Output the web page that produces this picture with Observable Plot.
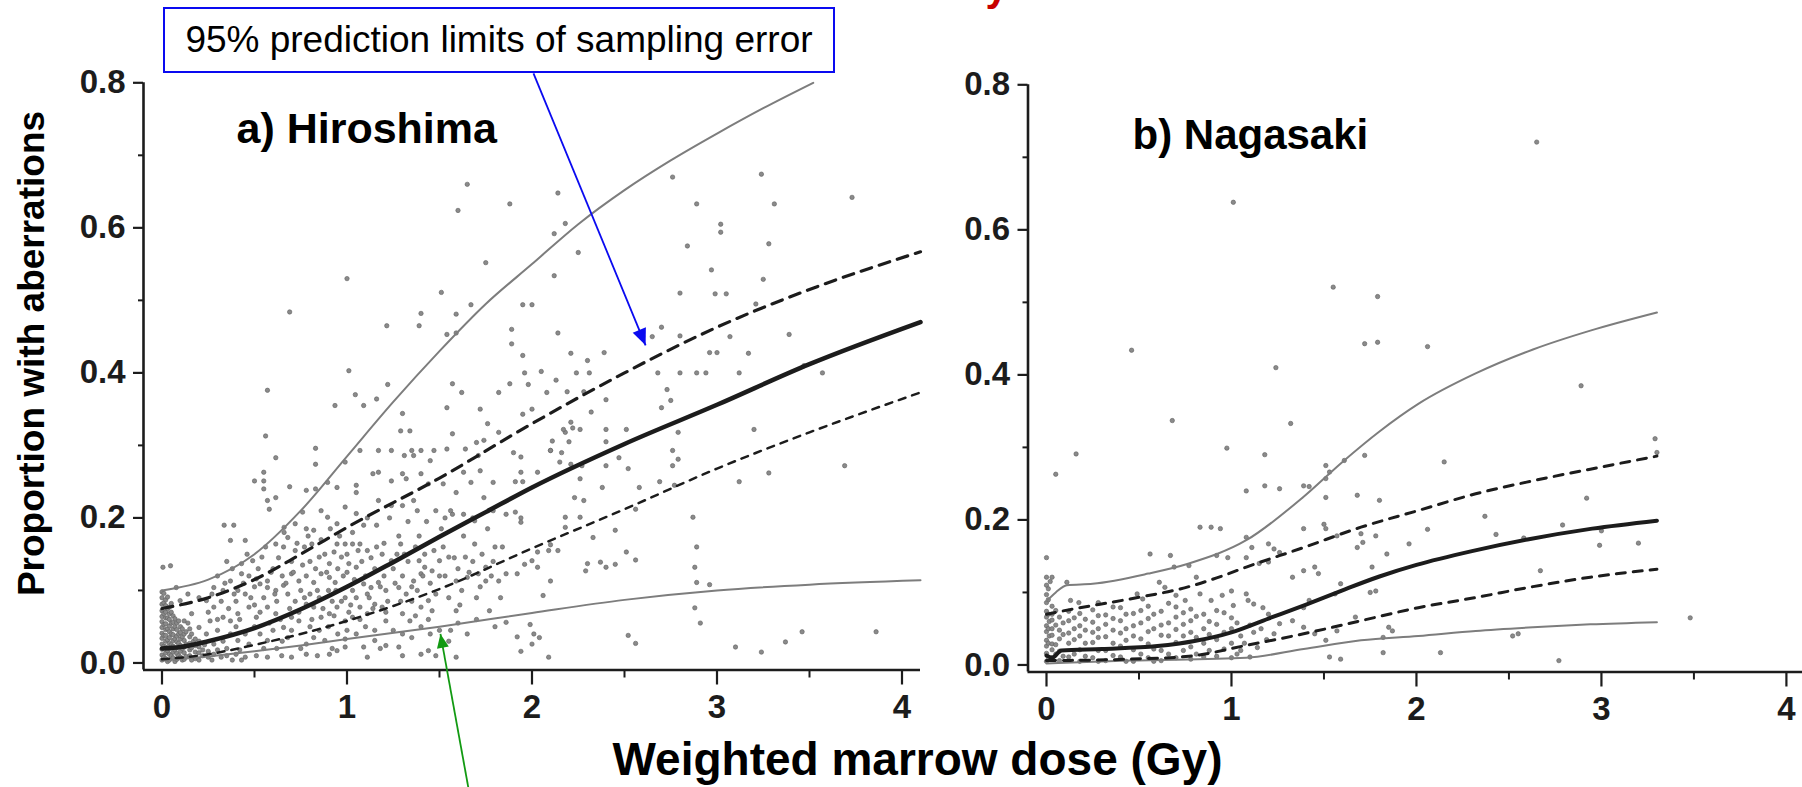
<!DOCTYPE html>
<html>
<head>
<meta charset="utf-8">
<script src="https://cdn.jsdelivr.net/npm/d3@7"></script>
<script src="https://cdn.jsdelivr.net/npm/@observablehq/plot@0.6"></script>
<style>
  html, body { margin: 0; padding: 0; background: #fff; }
  #wrap { position: relative; width: 1802px; height: 787px; overflow: hidden; background: #fff;
          font-family: "Liberation Sans", Arial, Helvetica, sans-serif; }
  #wrap svg { position: absolute; left: 0; top: 0; }
  #callout { position: absolute; left: 163px; top: 7px; width: 672px; height: 66px; box-sizing: border-box;
             border: 2.5px solid #0a0af0; background: #fff; display: flex; align-items: center; justify-content: center;
             font-size: 37px; color: #000; white-space: nowrap; z-index: 3; }
</style>
</head>
<body>
<div id="wrap"><div id="callout"></div></div>
<script>
// ---------------- texts ----------------
const calloutText = "95% prediction limits of sampling error";
const panelA = "a) Hiroshima";
const panelB = "b) Nagasaki";
const xTitle = "Weighted marrow dose (Gy)";
const yTitle = "Proportion with aberrations";
const titleTail = "y"; // only the descender of the (cropped) red title is visible

// ---------------- ticks ----------------
const yMajor = [0, 0.2, 0.4, 0.6, 0.8];
const yMinor = [0.1, 0.3, 0.5, 0.7];
const xMajor = [0, 1, 2, 3, 4];
const xMinor = [0.5, 1.5, 2.5, 3.5];

// ---------------- Hiroshima curves [dose, proportion] ----------------
const hFit = [[0,0.020],[0.1,0.022],[0.25,0.030],[0.5,0.048],[0.75,0.074],[1,0.105],[1.25,0.139],[1.5,0.174],[1.75,0.208],[2,0.242],[2.5,0.302],[3,0.356],[3.5,0.412],[4.1,0.470]];
const hUpperCI = [[0,0.075],[0.25,0.09],[0.5,0.115],[0.75,0.15],[1,0.187],[1.5,0.255],[2,0.33],[2.5,0.40],[3,0.463],[3.5,0.515],[4.1,0.567]];
const hLowerCI = [[0,0.005],[0.25,0.012],[0.5,0.025],[0.75,0.04],[1,0.058],[1.5,0.102],[2,0.158],[2.5,0.212],[3,0.268],[3.5,0.318],[4.1,0.373]];
const hUpperPL = [[0,0.10],[0.25,0.115],[0.5,0.15],[0.75,0.21],[1,0.285],[1.25,0.36],[1.5,0.43],[1.75,0.495],[2,0.55],[2.25,0.605],[2.5,0.652],[2.75,0.693],[3,0.73],[3.25,0.765],[3.52,0.80]];
const hLowerPL = [[0,0.003],[0.25,0.009],[0.5,0.016],[0.75,0.024],[1,0.033],[1.5,0.05],[2,0.069],[2.5,0.087],[3,0.1],[3.5,0.108],[4.1,0.114]];

// ---------------- Nagasaki curves ----------------
const nFit = [[0,0.013],[0.03,0.010],[0.08,0.020],[0.3,0.022],[0.6,0.026],[0.8,0.033],[1.0,0.045],[1.2,0.064],[1.4,0.083],[1.6,0.103],[1.8,0.122],[2.0,0.138],[2.3,0.157],[2.6,0.173],[2.95,0.188],[3.3,0.199]];
const nUpperCI = [[0,0.07],[0.14,0.077],[0.45,0.091],[0.77,0.108],[0.92,0.12],[1.08,0.135],[1.39,0.162],[1.70,0.19],[2.01,0.213],[2.32,0.236],[2.63,0.254],[2.94,0.27],[3.30,0.288]];
const nLowerCI = [[0,0.006],[0.45,0.008],[0.77,0.012],[1.08,0.027],[1.39,0.043],[1.7,0.061],[2.01,0.079],[2.32,0.093],[2.63,0.108],[2.94,0.121],[3.3,0.132]];
const nUpperPL = [[0,0.088],[0.05,0.1],[0.11,0.11],[0.25,0.112],[0.55,0.126],[0.77,0.14],[1.08,0.172],[1.39,0.232],[1.6,0.28],[1.8,0.322],[2.01,0.36],[2.32,0.402],[2.63,0.435],[2.94,0.461],[3.3,0.486]];
const nLowerPL = [[0,0.002],[0.45,0.006],[1.08,0.01],[1.39,0.022],[1.7,0.034],[2.01,0.04],[2.32,0.047],[2.63,0.052],[2.94,0.056],[3.3,0.059]];

// ---------------- Hiroshima observations [dose, proportion] ----------------
const hObs = [
[1.65,0.66],[1.60,0.624],[1.88,0.633],[2.14,0.648],[2.18,0.606],[2.12,0.592],[2.25,0.566],[1.75,0.552],[2.12,0.534],[1.0,0.53],[1.51,0.511],[0.69,0.484],[1.67,0.494],[1.95,0.494],[2.0,0.494],[1.40,0.482],[1.59,0.481],[1.215,0.465],[1.39,0.465],[1.54,0.453],[1.59,0.455],[1.89,0.46],[1.89,0.44],[2.14,0.455],[1.01,0.403],[1.57,0.385],[1.95,0.424],[2.05,0.402],[1.96,0.40],[2.21,0.427],[2.30,0.417],[0.57,0.376],[1.045,0.37],[1.22,0.384],[1.62,0.373],[1.82,0.373],[1.88,0.385],[1.98,0.384],[2.08,0.373],[0.935,0.355],[1.09,0.355],[1.16,0.364],[1.30,0.344],[1.54,0.352],[1.72,0.35],[1.95,0.343],[2.0,0.35],[2.32,0.346],[0.56,0.313],[0.83,0.296],[0.615,0.283],[1.29,0.32],[1.34,0.32],[1.57,0.316],[1.76,0.33],[2.11,0.306],[2.22,0.324],[1.9,0.29],
[1.70,0.304],[1.74,0.307],[1.82,0.318],[2.18,0.318],[0.99,0.277],[1.07,0.293],[1.17,0.293],[1.24,0.293],[1.35,0.293],[1.40,0.293],[1.47,0.293],[1.54,0.295],[1.31,0.286],[1.36,0.286],[1.45,0.279],[1.71,0.286],[1.64,0.295],[2.10,0.293],[2.16,0.29],
[2.76,0.67],[3.24,0.674],[3.73,0.642],[2.89,0.633],[3.31,0.633],[3.02,0.605],[3.02,0.594],[2.84,0.575],[3.28,0.578],[2.97,0.542],[3.25,0.529],[2.80,0.51],[2.99,0.509],[3.05,0.509],[3.21,0.495],[2.70,0.463],[2.65,0.45],[2.80,0.451],[3.07,0.45],[3.39,0.453],[2.39,0.428],[2.96,0.428],[3.0,0.428],[3.17,0.427],[2.68,0.40],[2.80,0.40],[2.89,0.40],[2.94,0.40],[3.12,0.40],[3.57,0.40],[2.13,0.39],[2.24,0.40],[2.31,0.40],[3.47,0.41],[2.73,0.377],[2.75,0.362],[2.70,0.352],[2.19,0.374],[2.40,0.363],[2.28,0.374],[2.21,0.332],[2.26,0.322],[2.17,0.322],[2.40,0.322],[2.51,0.322],[2.79,0.318],[3.20,0.322],[2.10,0.293],[2.20,0.305],[2.40,0.305],[2.76,0.293],
[2.15,0.277],[2.21,0.274],[1.94,0.284],[2.47,0.283],[2.52,0.268],[2.40,0.272],[2.27,0.272],[2.79,0.281],[2.76,0.272],[1.94,0.263],[2.03,0.263],[1.91,0.25],[1.95,0.25],[2.26,0.254],[2.38,0.242],[2.58,0.242],[2.69,0.25],[2.77,0.245],[3.12,0.25],[3.28,0.262],[3.69,0.272],[2.23,0.228],[2.28,0.224],[1.86,0.205],[1.91,0.208],[1.94,0.2],[1.94,0.194],[2.18,0.201],[2.26,0.201],[2.18,0.187],[2.33,0.173],[2.45,0.183],[2.56,0.212],[2.87,0.201],[2.89,0.16],[2.03,0.153],[2.10,0.163],[2.09,0.155],[2.14,0.155],[2.51,0.153],[2.56,0.142],[1.92,0.123],[1.86,0.123],[1.96,0.136],[2.0,0.141],[2.03,0.132],[2.10,0.113],[2.29,0.127],[2.30,0.137],[2.37,0.139],[2.40,0.132],[2.45,0.136],[2.88,0.132],[2.89,0.111],[2.96,0.108],[2.06,0.093],[2.88,0.076],[2.91,0.055],[1.86,0.056],[1.99,0.053],[1.92,0.036],[2.01,0.04],[2.04,0.035],[2.0,0.026],[1.94,0.016],[2.09,0.008],[2.52,0.038],[2.56,0.027],[3.10,0.022],[3.24,0.015],[3.37,0.029],[3.46,0.043],[3.86,0.043],
[0.50,0.251],[0.55,0.251],[0.55,0.263],[0.83,0.274],[0.55,0.24],[0.57,0.224],[0.615,0.228],[0.69,0.243],[0.78,0.238],[0.83,0.24],[0.895,0.249],[0.946,0.242],[1.05,0.245],[1.05,0.235],[1.14,0.261],[1.17,0.263],[1.24,0.251],[1.30,0.261],[1.32,0.254],[1.40,0.261],[1.44,0.247],[1.52,0.247],[1.59,0.235],[1.63,0.263],[1.67,0.249],[1.72,0.265],[1.74,0.228],[1.79,0.249],
[0.336,0.19],[0.388,0.19],[0.58,0.212],[0.66,0.187],[0.68,0.173],[0.72,0.192],[0.76,0.208],[0.78,0.185],[0.82,0.183],[0.86,0.21],[0.895,0.201],[0.946,0.192],[0.99,0.215],[1.05,0.206],[1.11,0.2],[1.17,0.224],[1.24,0.217],[1.30,0.217],[1.36,0.224],[1.38,0.21],[1.48,0.21],[1.53,0.2],[1.57,0.205],[1.63,0.205],[1.69,0.196],[1.79,0.21],
[0.005,0.132],[0.046,0.134],[0.37,0.169],[0.45,0.169],[0.43,0.137],[0.49,0.141],[0.54,0.146],[0.37,0.113],[0.28,0.104],[0.33,0.1],[0.41,0.1],[0.53,0.109],[0.57,0.113],[0.615,0.164],[0.657,0.16],[0.72,0.155],[0.77,0.16],[0.81,0.164],[0.85,0.146],[0.905,0.137],[0.946,0.164],[0.99,0.164],[1.03,0.164],[1.07,0.164],[1.11,0.155],[1.16,0.16],[0.93,0.153],[0.97,0.146],[1.01,0.137],[1.05,0.132],[1.19,0.15],[1.24,0.141],[1.29,0.164],[1.37,0.16],[1.39,0.141],[1.42,0.132],[1.50,0.141],[1.55,0.146],[1.64,0.146],[1.69,0.164],[1.75,0.132],[1.82,0.113],
[0.43,0.123],[0.47,0.12],[0.51,0.116],[0.57,0.104],[0.615,0.1],[0.657,0.107],[0.70,0.123],[0.74,0.113],[0.78,0.12],[0.82,0.111],[0.86,0.123],[0.905,0.118],[0.936,0.111],[0.99,0.09],[1.03,0.1],[1.09,0.109],[1.13,0.104],[1.17,0.111],[1.21,0.1],[1.28,0.104],[1.32,0.095],[1.36,0.113],[1.40,0.123],[1.46,0.127],[1.59,0.113],[1.65,0.118],[1.71,0.123],[1.75,0.113],
[0.2,0.09],[0.24,0.086],[0.28,0.077],[0.33,0.063],[0.37,0.058],[0.41,0.068],[0.47,0.077],[0.51,0.063],[0.57,0.077],[0.615,0.068],[0.657,0.049],[0.70,0.063],[0.74,0.058],[0.78,0.081],[0.82,0.077],[0.86,0.063],[0.905,0.068],[0.946,0.077],[0.99,0.058],[1.03,0.063],[1.07,0.077],[1.11,0.068],[1.15,0.081],[1.19,0.077],[1.21,0.058],[1.30,0.068],[1.34,0.058],[1.40,0.077],[1.44,0.086],[1.46,0.072],[1.50,0.045],[1.56,0.045],[1.59,0.072],[1.77,0.072],
[1.59,0.008],[1.48,0.01],[1.44,0.017],[1.40,0.012],[1.30,0.01],[1.11,0.008],[1.21,0.024],[1.28,0.022],[0.70,0.008],[0.647,0.01],[0.57,0.008],[0.51,0.01],[0.45,0.008],[0.78,0.012],[0.84,0.01],[0.905,0.012],[0.946,0.017],[0.99,0.022],[0.57,0.031],[0.68,0.035],[0.78,0.026],[0.88,0.031],[0.99,0.033],[1.09,0.022],[1.15,0.031],[0.37,0.04],[0.41,0.031],[0.47,0.026],[0.53,0.04],[0.24,0.04],[0.28,0.026],[0.2,0.022],[0.2,0.049],[0.26,0.058],[0.16,0.068],[0.12,0.058],[0.098,0.086],[0.14,0.095],[0.077,0.104],
[0.3,0.12],[0.35,0.14],[0.4,0.085],[0.45,0.095],[0.5,0.08],[0.55,0.09],[0.6,0.13],[0.62,0.085],[0.65,0.12],[0.68,0.095],[0.7,0.14],[0.72,0.085],[0.75,0.1],[0.8,0.14],[0.8,0.095],[0.85,0.09],[0.88,0.15],[0.9,0.1],[0.92,0.085],[0.95,0.13],[0.98,0.12],[1.0,0.15],[1.02,0.08],[1.05,0.09],[1.08,0.14],[1.1,0.12],[1.12,0.09],[1.15,0.13],[1.2,0.12],[1.22,0.085],[1.25,0.13],[1.27,0.15],[1.3,0.12],[1.33,0.14],[1.35,0.085],[1.38,0.1],[1.42,0.15],[1.45,0.11],[1.5,0.12],[1.52,0.16],[1.55,0.09],[1.6,0.13],[1.62,0.1],[1.68,0.14],[1.7,0.09],[1.73,0.15],[1.78,0.12],[1.8,0.16],
[0.3,0.045],[0.35,0.02],[0.4,0.05],[0.45,0.04],[0.5,0.05],[0.55,0.02],[0.6,0.045],[0.62,0.02],[0.65,0.03],[0.7,0.045],[0.75,0.02],[0.8,0.05],[0.82,0.035],[0.85,0.045],[0.9,0.05],[0.92,0.02],[0.95,0.04],[1.0,0.045],[1.05,0.04],[1.1,0.05],[1.15,0.045],[1.18,0.02],[1.25,0.045],[1.3,0.04],[1.35,0.035],[1.4,0.05],[1.45,0.04],[1.55,0.03],[1.6,0.055],[1.65,0.04],[1.7,0.06],[1.8,0.05],
[0.25,0.07],[0.27,0.095],[0.3,0.06],[0.32,0.085],[0.34,0.11],[0.36,0.075],[0.38,0.13],[0.39,0.095],[0.42,0.06],[0.44,0.11],[0.46,0.15],[0.48,0.09],[0.5,0.105],[0.52,0.13],[0.53,0.07],[0.56,0.16],[0.58,0.055],[0.59,0.125],[0.61,0.095],[0.63,0.145],[0.64,0.06],[0.66,0.18],[0.67,0.11],[0.69,0.075],[0.71,0.125],[0.73,0.165],[0.74,0.07],[0.76,0.135],[0.77,0.09],[0.79,0.175],[0.81,0.06],[0.83,0.13],[0.84,0.1],[0.86,0.17],[0.87,0.075],[0.89,0.125],[0.91,0.185],[0.93,0.065],[0.94,0.1],[0.96,0.175],[0.97,0.085],[1.0,0.125],[1.01,0.07],[1.03,0.18],[1.04,0.115],[1.06,0.155],[1.07,0.06],[1.09,0.19],[1.11,0.095],[1.13,0.145],[1.14,0.075],[1.16,0.19],[1.18,0.105],[1.2,0.165],[1.21,0.07],[1.23,0.2],[1.26,0.11],[1.28,0.175],[1.29,0.085],[1.31,0.15],[1.33,0.195],[1.35,0.105],[1.37,0.065],[1.39,0.175],[1.41,0.12],[1.43,0.195],[1.44,0.06],[1.47,0.155],[1.48,0.095],[1.51,0.185],[1.53,0.12],[1.56,0.21],[1.58,0.145],[1.61,0.08],[1.63,0.175],[1.66,0.125],[1.68,0.2],[1.72,0.105],[1.76,0.185],[1.79,0.14],[1.83,0.09],[1.84,0.16],
[0,0.004],[0,0.011],[0,0.019],[0,0.026],[0,0.034],[0,0.041],[0,0.049],[0,0.057],[0,0.064],[0,0.072],[0,0.081],[0,0.09],[0,0.098],
[0.01,0.008],[0.01,0.023],[0.01,0.038],[0.01,0.053],[0.01,0.068],[0.01,0.083],[0.01,0.096],
[0.02,0.006],[0.02,0.014],[0.02,0.022],[0.02,0.03],[0.02,0.038],[0.02,0.046],[0.02,0.054],[0.02,0.062],[0.02,0.07],[0.02,0.079],[0.02,0.087],
[0.03,0.002],[0.03,0.017],[0.03,0.032],[0.03,0.047],[0.03,0.062],[0.03,0.075],[0.03,0.091],
[0.04,0.004],[0.04,0.012],[0.04,0.02],[0.04,0.027],[0.04,0.035],[0.04,0.043],[0.04,0.051],[0.04,0.06],[0.04,0.068],[0.04,0.077],
[0.05,0.01],[0.05,0.025],[0.05,0.04],[0.05,0.055],[0.05,0.07],[0.05,0.082],
[0.06,0.007],[0.06,0.015],[0.06,0.023],[0.06,0.031],[0.06,0.039],[0.06,0.047],[0.06,0.056],[0.06,0.065],
[0.07,0.002],[0.07,0.018],[0.07,0.033],[0.07,0.05],[0.07,0.061],
[0.08,0.005],[0.08,0.013],[0.08,0.021],[0.08,0.029],[0.08,0.037],[0.08,0.046],[0.08,0.055],
[0.09,0.01],[0.09,0.027],[0.09,0.04],[0.09,0.058],
[0.1,0.008],[0.1,0.016],[0.1,0.024],[0.1,0.033],[0.1,0.042],[0.1,0.05],
[0.11,0.004],[0.11,0.02],[0.11,0.036],[0.11,0.047],
[0.12,0.005],[0.12,0.014],[0.12,0.022],[0.12,0.031],[0.12,0.04],
[0.13,0.009],[0.13,0.026],[0.13,0.043],[0.14,0.055],
[0.15,0.01],[0.15,0.018],[0.15,0.027],[0.15,0.036],[0.15,0.047],
[0.16,0.004],[0.16,0.021],[0.16,0.04],[0.17,0.03],
[0.18,0.006],[0.18,0.015],[0.18,0.024],[0.18,0.033],
[0.2,0.004],[0.2,0.014],[0.2,0.03],[0.22,0.01],[0.22,0.018],[0.23,0.025],[0.25,0.008],[0.25,0.016],[0.27,0.004],[0.28,0.012],[0.3,0.018],[0.32,0.008],[0.33,0.03],[0.35,0.01],[0.38,0.004],[0.4,0.012],[0.42,0.018],[0.43,0.004]
];

// ---------------- Nagasaki observations ----------------
const nObs = [
[2.65,0.721],[1.01,0.638],[1.55,0.521],[1.79,0.508],[1.72,0.443],[1.79,0.445],[2.06,0.439],[0.46,0.434],[1.24,0.41],[2.89,0.385],[0.68,0.337],[1.32,0.333],[0.16,0.291],[0.05,0.263],[0.975,0.299],[1.18,0.29],[2.15,0.28],[3.29,0.312],[3.30,0.293],
[1.08,0.24],[1.18,0.247],[1.26,0.243],[1.39,0.247],[1.42,0.246],[1.53,0.266],[1.51,0.257],[1.61,0.282],[1.72,0.289],[1.51,0.275],[1.68,0.234],[1.80,0.227],[1.51,0.231],[2.92,0.23],[2.37,0.205],[2.06,0.187],[1.96,0.167],[2.79,0.193],[3.0,0.185],[2.99,0.165],[3.2,0.168],[2.67,0.13],[2.43,0.18],[2.58,0.175],
[0.83,0.19],[0.89,0.19],[0.94,0.188],[1.08,0.176],[1.11,0.162],[1.2,0.167],[1.23,0.16],[1.39,0.188],[1.5,0.194],[1.51,0.188],[1.57,0.178],[1.7,0.181],[1.78,0.178],[1.84,0.153],[1.71,0.169],[1.68,0.162],
[0.56,0.153],[0.67,0.151],[0.69,0.135],[0.77,0.137],[0.81,0.121],[0.92,0.151],[0.98,0.148],[1.08,0.148],[1.15,0.14],[1.2,0.142],[1.26,0.155],[1.33,0.121],[1.39,0.13],[1.45,0.135],[1.47,0.126],[1.59,0.112],[1.56,0.098],[1.76,0.135],[1.75,0.1],[1.78,0.102],
[0.0,0.148],[0.0,0.121],[0.03,0.121],[0.0,0.11],[0.11,0.114],[0.13,0.089],[0.175,0.086],[0.28,0.086],[0.49,0.098],[0.52,0.091],[0.61,0.114],[0.64,0.107],[0.70,0.096],[0.75,0.089],[0.83,0.098],[0.89,0.089],[0.95,0.096],[1.0,0.102],[1.01,0.082],[1.08,0.098],[1.09,0.089],[1.12,0.084],[1.17,0.079],[1.2,0.07],[1.39,0.079],[1.42,0.089],[1.26,0.057],[1.33,0.061],[1.39,0.052],[1.45,0.043],[1.51,0.034],[1.53,0.011],[1.59,0.008],[1.82,0.017],[1.87,0.047],[1.85,0.052],[2.13,0.017],[2.52,0.04],[2.55,0.043],[2.77,0.006],[3.48,0.065],[1.57,0.047],[1.67,0.066],[1.82,0.038],[1.23,0.043],[1.14,0.024],
[0,0.005],[0,0.016],[0,0.026],[0,0.034],[0,0.046],[0,0.054],[0,0.066],[0,0.074],[0,0.086],[0,0.097],
[0.01,0.01],[0.01,0.03],[0.01,0.05],[0.01,0.07],[0.01,0.09],[0.01,0.105],[0.02,0.115],[0.015,0.04],[0.015,0.06],
[0.03,0.01],[0.03,0.021],[0.03,0.029],[0.03,0.041],[0.03,0.05],[0.03,0.062],[0.03,0.07],[0.03,0.081],
[0.05,0.015],[0.05,0.028],[0.05,0.055],[0.05,0.075],
[0.07,0.006],[0.07,0.019],[0.07,0.036],[0.07,0.048],[0.07,0.066],
[0.09,0.012],[0.09,0.042],[0.09,0.058],
[0.12,0.011],[0.12,0.03],[0.12,0.044],[0.12,0.061],[0.12,0.074],
[0.15,0.015],[0.15,0.035],[0.15,0.05],[0.15,0.065],
[0.18,0.005],[0.18,0.021],[0.18,0.04],[0.18,0.054],[0.18,0.071],
[0.21,0.012],[0.21,0.03],[0.21,0.048],[0.21,0.063],
[0.25,0.01],[0.25,0.031],[0.25,0.045],[0.25,0.059],[0.25,0.076],
[0.28,0.005],[0.28,0.02],[0.28,0.038],[0.28,0.05],[0.28,0.068],
[0.32,0.006],[0.32,0.02],[0.32,0.039],[0.32,0.056],[0.32,0.069],
[0.36,0.013],[0.36,0.03],[0.36,0.048],[0.36,0.064],[0.36,0.08],
[0.4,0.011],[0.4,0.026],[0.4,0.044],[0.4,0.061],[0.4,0.079],
[0.43,0.005],[0.43,0.034],[0.43,0.05],[0.43,0.07],
[0.47,0.005],[0.47,0.021],[0.47,0.04],[0.47,0.054],[0.47,0.071],
[0.51,0.015],[0.51,0.036],[0.51,0.058],[0.51,0.075],
[0.55,0.01],[0.55,0.029],[0.55,0.046],[0.55,0.064],[0.55,0.081],
[0.58,0.005],[0.58,0.022],[0.58,0.05],[0.58,0.07],
[0.62,0.006],[0.62,0.02],[0.62,0.041],[0.62,0.055],[0.62,0.074],
[0.66,0.015],[0.66,0.04],[0.66,0.058],[0.66,0.085],
[0.7,0.01],[0.7,0.031],[0.7,0.049],[0.7,0.066],[0.7,0.08],
[0.74,0.02],[0.74,0.04],[0.74,0.056],[0.74,0.072],
[0.78,0.008],[0.78,0.025],[0.78,0.045],[0.78,0.061],[0.78,0.077],
[0.81,0.015],[0.81,0.038],[0.81,0.067],
[0.85,0.011],[0.85,0.03],[0.85,0.05],[0.85,0.07],
[0.88,0.02],[0.88,0.042],[0.88,0.06],
[0.92,0.012],[0.92,0.035],[0.92,0.056],[0.92,0.075],
[0.96,0.022],[0.96,0.045],[0.96,0.072],
[1.0,0.01],[1.0,0.03],[1.0,0.05],[1.0,0.065],
[1.03,0.015],[1.03,0.058],[1.05,0.02],[1.05,0.04],[1.07,0.03],[1.1,0.011],[1.1,0.055],[1.12,0.045],[1.16,0.05],[1.19,0.035]
];

// ---------------- annotation anchors (data coordinates of panel a) ----------------
const blueArrow = [{x1: 2.008, y1: 0.813, x2: 2.614, y2: 0.438}];
const greenArrow = [{x1: 1.656, y1: -0.172, x2: 1.505, y2: 0.040}];

// ---------------- drawing ----------------
const W = 1802, H = 787;
const ink = "#1c1c1c";
const gray = "#7d7d7d";
const font = "'Liberation Sans', Arial, Helvetica, sans-serif";
const xy = {x: d => d[0], y: d => d[1]};

function headSymbol(angleDeg) {
  const a = angleDeg * Math.PI / 180, c = Math.cos(a), s = Math.sin(a);
  const rot = (x, y) => [x * c - y * s, x * s + y * c];
  return {
    draw(ctx, size) {
      const r = Math.sqrt(size / Math.PI), L = r * 2.2, w = r * 0.95;
      const p1 = rot(w, L), p2 = rot(-w, L);
      ctx.moveTo(0, 0); ctx.lineTo(p1[0], p1[1]); ctx.lineTo(p2[0], p2[1]); ctx.closePath();
    }
  };
}

function axes(xd, yd) {
  return [
    Plot.ruleX([xd[0]], {stroke: ink, strokeWidth: 2.6}),
    Plot.ruleY([yd[0]], {stroke: ink, strokeWidth: 2.6}),
    Plot.axisY({ticks: yMajor, tickSize: 10, tickPadding: 8, tickFormat: d3.format(".1f"), fontSize: 33, fontWeight: "bold", fontFamily: font, label: null, strokeWidth: 2.2}),
    Plot.axisY({ticks: yMinor, tickSize: 5, tickFormat: () => "", label: null, strokeWidth: 2}),
    Plot.axisX({ticks: xMajor, tickSize: 15, tickPadding: 10, tickFormat: d3.format("d"), fontSize: 33, fontWeight: "bold", fontFamily: font, label: null, strokeWidth: 2.2}),
    Plot.axisX({ticks: xMinor, tickSize: 8, tickFormat: () => "", label: null, strokeWidth: 2})
  ];
}

function curves(obs, fit, uci, lci, upl, lpl, st) {
  return [
    Plot.dot(obs, {...xy, symbol: "circle", r: 2.2, fill: "#8a8a8a", stroke: "#5f5f5f", strokeWidth: 0.6}),
    Plot.line(upl, {...xy, curve: "monotone-x", stroke: gray, strokeWidth: 2}),
    Plot.line(lpl, {...xy, curve: "monotone-x", stroke: gray, strokeWidth: 2}),
    Plot.line(uci, {...xy, curve: "monotone-x", stroke: ink, strokeWidth: st.uw, strokeDasharray: st.ud}),
    Plot.line(lci, {...xy, curve: "monotone-x", stroke: ink, strokeWidth: st.lw, strokeDasharray: st.ld}),
    Plot.line(fit, {...xy, curve: "monotone-x", stroke: ink, strokeWidth: st.fw})
  ];
}

const xdA = [-0.1, 4.1], ydA = [-0.0097, 0.8];
const left = Plot.plot({
  width: W, height: H,
  marginLeft: 143, marginRight: W - 920, marginTop: 82.3, marginBottom: H - 669.5,
  x: {domain: xdA}, y: {domain: ydA},
  style: {background: "transparent", color: ink, fontFamily: font, overflow: "visible"},
  marks: [
    ...curves(hObs, hFit, hUpperCI, hLowerCI, hUpperPL, hLowerPL, {uw: 3.2, ud: "11,8", lw: 2.5, ld: "7,7", fw: 4.5}),
    ...axes(xdA, ydA),
    Plot.text([panelA], {text: d => d, frameAnchor: "top-left", dx: 93, dy: 59.7, fontSize: 43, fontWeight: "bold", textAnchor: "start", lineAnchor: "bottom", fill: "#000"}),
    Plot.text([yTitle], {text: d => d, frameAnchor: "top-left", dx: -99.5, dy: 270.7, rotate: -90, fontSize: 37, fontWeight: "bold", textAnchor: "middle", lineAnchor: "bottom", fill: "#000"}),
    Plot.text([xTitle], {text: d => d, frameAnchor: "top-left", dx: 774, dy: 691.7, fontSize: 46, fontWeight: "bold", textAnchor: "middle", lineAnchor: "bottom", fill: "#000"}),
    Plot.link(blueArrow, {x1: "x1", y1: "y1", x2: "x2", y2: "y2", stroke: "#0a0af0", strokeWidth: 1.8}),
    Plot.dot(blueArrow, {x: "x2", y: "y2", symbol: headSymbol(157.6), r: 7.5, fill: "#0a0af0", stroke: "none"}),
    Plot.link(greenArrow, {x1: "x1", y1: "y1", x2: "x2", y2: "y2", stroke: "#129a12", strokeWidth: 1.8}),
    Plot.dot(greenArrow, {x: "x2", y: "y2", symbol: headSymbol(-10.3), r: 6.3, fill: "#129a12", stroke: "none"})
  ]
});

const xdB = [-0.1, 4.087], ydB = [-0.0097, 0.8];
const right = Plot.plot({
  width: W, height: H,
  marginLeft: 1027.5, marginRight: 0, marginTop: 84.3, marginBottom: H - 671.5,
  x: {domain: xdB}, y: {domain: ydB},
  style: {background: "transparent", color: ink, fontFamily: font, overflow: "visible"},
  marks: [
    ...curves(nObs, nFit, nUpperCI, nLowerCI, nUpperPL, nLowerPL, {uw: 3, ud: "9,8", lw: 3, ld: "9,8", fw: 4}),
    ...axes(xdB, ydB),
    Plot.text([panelB], {text: d => d, frameAnchor: "top-left", dx: 104.5, dy: 63.7, fontSize: 42, fontWeight: "bold", textAnchor: "start", lineAnchor: "bottom", fill: "#000"}),
    Plot.text([titleTail], {text: d => d, frameAnchor: "top-left", dx: -42.5, dy: -84.3, fontSize: 40, fontWeight: "bold", textAnchor: "start", lineAnchor: "bottom", fill: "#c80000"})
  ]
});

const wrap = document.getElementById("wrap");
wrap.appendChild(left);
wrap.appendChild(right);
document.getElementById("callout").textContent = calloutText;
</script>
</body>
</html>
